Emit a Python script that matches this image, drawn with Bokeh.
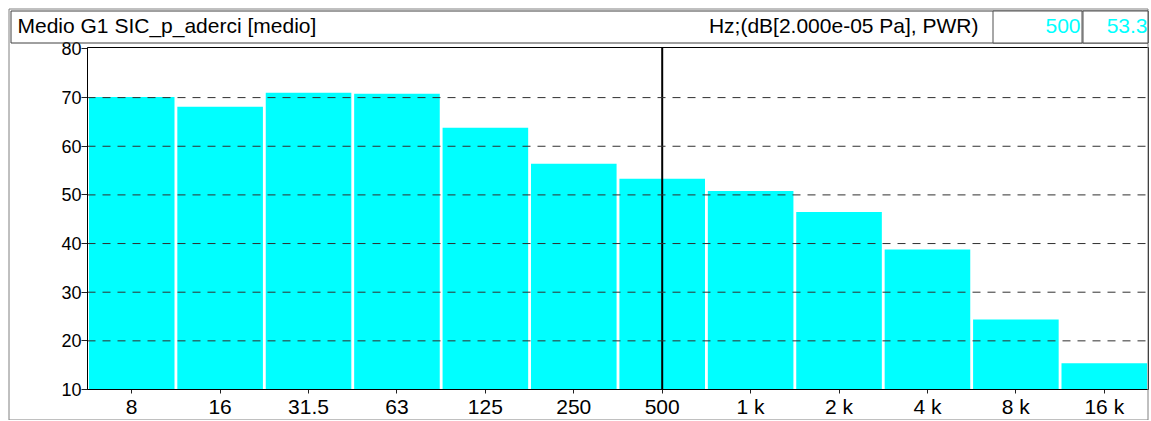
from bokeh.plotting import figure
from bokeh.models import Range1d, FixedTicker, Label, BoxAnnotation, LinearAxis
from bokeh.embed import file_html
from bokeh.resources import INLINE

# ---- data ----
freqs = ["8", "16", "31.5", "63", "125", "250", "500", "1 k", "2 k", "4 k", "8 k", "16 k"]
levels = [70.1, 68.1, 71.0, 70.8, 63.8, 56.4, 53.3, 50.8, 46.5, 38.8, 24.4, 15.4]
y_ticks = [10, 20, 30, 40, 50, 60, 70, 80]
grid_ticks = [20, 30, 40, 50, 60, 70]
title_text = "Medio G1 SIC_p_aderci [medio]"
units_text = "Hz;(dB[2.000e-05 Pa], PWR)"
cursor_index = 6
cursor_freq = freqs[cursor_index]
cursor_level = levels[cursor_index]

FONT = "Liberation Sans"
CYAN = "#00FFFF"

# ---- layout geometry (canvas pixels) ----
W, H = 1150, 420
F_LEFT, F_RIGHT, F_TOP, F_BOTTOM = 87, 1148, 47, 389
Y_MIN, Y_MAX = 10, 80.3
n = len(freqs)
x_lo, x_hi = -0.5, n - 0.5
xpx = (F_RIGHT - F_LEFT) / (x_hi - x_lo)
ypx = (F_BOTTOM - F_TOP) / (Y_MAX - Y_MIN)

p = figure(width=W, height=H,
           x_range=Range1d(x_lo - F_LEFT / xpx, x_hi + (W - F_RIGHT) / xpx),
           y_range=Range1d(Y_MIN - (H - F_BOTTOM) / ypx, Y_MAX + F_TOP / ypx),
           toolbar_location=None, output_backend="svg", min_border=0,
           x_axis_location=None, y_axis_location=None)
p.background_fill_color = "white"
p.border_fill_color = "white"
p.outline_line_color = None
p.grid.visible = False

xs = list(range(n))
p.vbar(x=xs, top=levels, bottom=Y_MIN, width=0.968, fill_color=CYAN, line_color=None)

# dashed horizontal grid over the bars
p.segment(x0=[x_lo] * len(grid_ticks), x1=[x_hi] * len(grid_ticks), y0=grid_ticks, y1=grid_ticks,
          line_color="#303030", line_dash="8 7", line_width=1, level="annotation")

# cursor line
p.segment(x0=[cursor_index], x1=[cursor_index], y0=[Y_MIN], y1=[Y_MAX], line_color="black",
          line_width=2)

# plot box
p.add_layout(BoxAnnotation(left=x_lo, right=x_hi, bottom=Y_MIN, top=Y_MAX, fill_alpha=0,
                           line_color="black", line_alpha=1.0, line_width=1, editable=False))

yax = LinearAxis(fixed_location=x_lo, ticker=FixedTicker(ticks=y_ticks), bounds=(Y_MIN, Y_MAX))
yax.major_label_text_font = FONT
yax.major_label_text_font_size = "18px"
yax.major_label_text_color = "black"
yax.major_tick_out = 6
yax.major_tick_in = 0
yax.minor_tick_line_color = None
yax.axis_line_color = "#404040"
yax.major_tick_line_color = "#202020"
yax.major_label_standoff = 0
p.add_layout(yax, "left")

xax = LinearAxis(fixed_location=Y_MIN, ticker=FixedTicker(ticks=xs), bounds=(x_lo, x_hi),
                 major_label_overrides={i: f for i, f in enumerate(freqs)})
xax.major_label_text_font = FONT
xax.major_label_text_font_size = "21px"
xax.major_label_text_color = "black"
xax.major_tick_out = 4
xax.major_tick_in = 0
xax.minor_tick_line_color = None
xax.axis_line_color = "#a0a0a0"
xax.major_tick_line_color = "#202020"
xax.major_label_standoff = 1
p.add_layout(xax, "below")

# ---- header and outer frame (canvas pixel units) ----
def box(l, r, t, b, color, fill=None):
    return BoxAnnotation(left=l, right=r, top=t, bottom=b,
                         left_units="canvas", right_units="canvas",
                         top_units="canvas", bottom_units="canvas",
                         fill_color=fill if fill else "white", fill_alpha=1.0 if fill else 0.0,
                         line_color=color, line_alpha=1.0, line_width=1, editable=False)

p.add_layout(box(8.5, 1147.5, 8.5, 419.5, "#808080"))
p.add_layout(box(10.5, 1147.5, 10.5, 42.5, "#404040"))
p.add_layout(box(992.5, 1081.5, 10.5, 42.5, "#505050", "white"))
p.add_layout(box(1082.5, 1147.5, 10.5, 42.5, "#505050", "white"))

def lab(x, text, color, align):
    return Label(x=x, y=25, x_units="canvas", y_units="canvas", text=text,
                 text_font=FONT, text_font_size="21px", text_color=color,
                 text_align=align, text_baseline="alphabetic")

p.add_layout(lab(17, title_text, "black", "left"))
p.add_layout(lab(978, units_text, "black", "right"))
p.add_layout(lab(1080, cursor_freq, CYAN, "right"))
p.add_layout(lab(1147, "%.1f" % cursor_level, CYAN, "right"))

open("out.html", "w").write(file_html(p, INLINE))
